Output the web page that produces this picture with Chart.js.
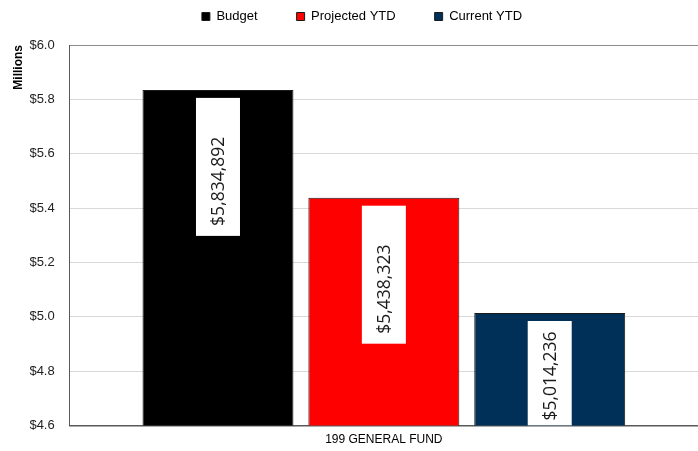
<!DOCTYPE html>
<html lang="en">
<head>
<meta charset="UTF-8">
<script src="https://cdn.jsdelivr.net/npm/chart.js"></script>
<title>199 General Fund</title>
<style>
  html, body { margin: 0; padding: 0; background: #fff; }
  #wrap { width: 698px; height: 451px; position: relative; }
</style>
</head>
<body>
<div id="wrap"><canvas id="grafico"></canvas></div>
<script>
// data (millions of dollars)
const categorias = ['199 GENERAL FUND'];
const series = ['Budget', 'Projected YTD', 'Current YTD'];
const budget = [5.834892];
const projetado = [5.438323];
const atual = [5.014236];
const rotulos = ['$5,834,892', '$5,438,323', '$5,014,236'];
const cores = ['#000000', '#ff0000', '#003057'];

// white boxes with rotated value text, like the Excel labels
const rotuloBarras = {
  id: 'rotuloBarras',
  afterDatasetsDraw(chart) {
    const ctx = chart.ctx;
    const area = chart.chartArea;
    ctx.save();
    ctx.beginPath();
    ctx.rect(area.left, area.top, area.right - area.left, area.bottom - area.top);
    ctx.clip();
    chart.data.datasets.forEach(function (ds, i) {
      const bar = chart.getDatasetMeta(i).data[0];
      const topo = bar.y + 8;
      var fundo = topo + 138;
      var margem = 10;
      if (fundo > area.bottom) { fundo = area.bottom; margem = 5; }
      const larg = 44;
      ctx.fillStyle = '#ffffff';
      ctx.fillRect(bar.x - larg / 2, topo, larg, fundo - topo);
      ctx.save();
      ctx.translate(bar.x + 1, fundo - margem);
      ctx.rotate(-Math.PI / 2);
      ctx.fillStyle = '#1a1a1a';
      ctx.font = '17.5px "Open Sans"';
      ctx.textAlign = 'left';
      ctx.textBaseline = 'middle';
      ctx.fillText(rotulos[i], 0, 0);
      ctx.restore();
    });
    ctx.restore();
  }
};

// extra room under the legend, and nudge it a bit to the right
const ajusteLegenda = {
  id: 'ajusteLegenda',
  beforeInit(chart) {
    const fitOriginal = chart.legend.fit;
    chart.legend.fit = function () {
      fitOriginal.bind(chart.legend)();
      this.height += 12;
    };
  },
  afterLayout(chart) {
    chart.legend.left += 16;
    chart.legend.right += 16;
  }
};

const grafico = new Chart(document.getElementById('grafico'), {
  type: 'bar',
  data: {
    labels: categorias,
    datasets: [
      { label: series[0], data: budget, backgroundColor: cores[0] },
      { label: series[1], data: projetado, backgroundColor: cores[1] },
      { label: series[2], data: atual, backgroundColor: cores[2] }
    ].map(function (d) {
      d.borderColor = '#1a1a1a';
      d.borderWidth = 1;
      d.categoryPercentage = 0.792;
      d.barPercentage = 0.91;
      return d;
    })
  },
  options: {
    responsive: true,
    maintainAspectRatio: false,
    animation: false,
    layout: { padding: { top: -29, right: 0, left: -6, bottom: -3 } },
    plugins: {
      tooltip: { enabled: false },
      legend: {
        display: true,
        position: 'top',
        labels: {
          boxWidth: 8,
          boxHeight: 8,
          padding: 39,
          color: '#000',
          font: { family: 'Arial, "Liberation Sans"', size: 13 }
        }
      }
    },
    scales: {
      x: {
        grid: { display: false, drawTicks: false },
        border: { display: true, color: '#595959', width: 1.5 },
        ticks: {
          color: '#000',
          padding: 7,
          font: { family: 'Arial, "Liberation Sans"', size: 12 }
        }
      },
      y: {
        min: 4.6,
        max: 6.0,
        ticks: {
          stepSize: 0.2,
          color: '#222',
          padding: 15,
          font: { family: 'Arial, "Liberation Sans"', size: 13 },
          callback: function (v) { return '$' + Number(v).toFixed(1); }
        },
        grid: {
          drawTicks: false,
          color: function (c) { return c.tick && c.tick.value >= 6.0 ? '#8c8c8c' : '#d9d9d9'; }
        },
        border: { display: true, color: '#595959', width: 1 },
        title: {
          display: true,
          text: 'Millions',
          align: 'end',
          color: '#000',
          padding: { top: 17, bottom: -11 },
          font: { family: 'Arial, "Liberation Sans"', size: 12, weight: 'bold' }
        }
      }
    }
  },
  plugins: [rotuloBarras, ajusteLegenda]
});
</script>
</body>
</html>
